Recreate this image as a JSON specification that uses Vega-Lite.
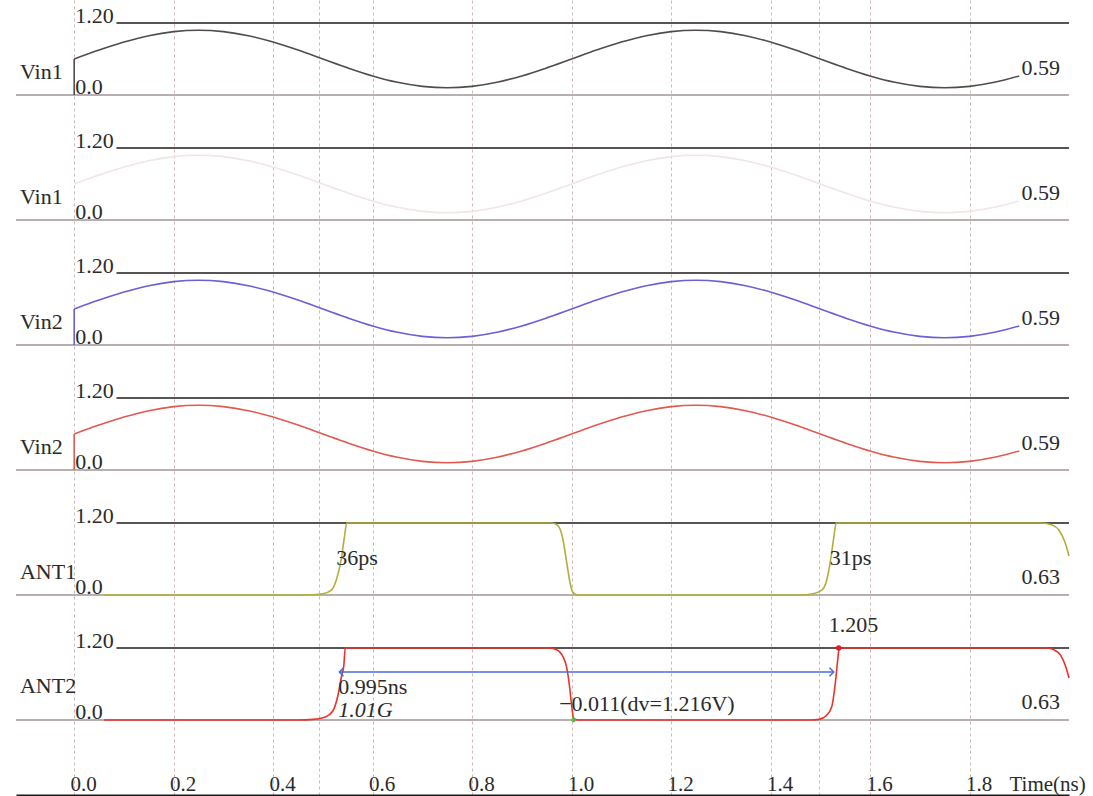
{
  "$schema": "https://vega.github.io/schema/vega-lite/v6.json",
  "padding": {"left": 15, "top": 0, "right": 0, "bottom": 0},
  "background": "white",
  "config": {
    "view": {"stroke": null},
    "text": {"font": "Liberation Serif", "fontSize": 22, "color": "#2a2a2a"},
    "axisY": {"disable": true}
  },
  "data": {"values": [
    {"kind":"name","panel":1,"name":"Vin1","end":"0.59"},
    {"kind":"name","panel":2,"name":"Vin1","end":"0.59"},
    {"kind":"name","panel":3,"name":"Vin2","end":"0.59"},
    {"kind":"name","panel":4,"name":"Vin2","end":"0.59"},
    {"kind":"name","panel":5,"name":"ANT1","end":"0.63"},
    {"kind":"name","panel":6,"name":"ANT2","end":"0.63"},
    {"kind":"start","panel":1,"t":0,"v":0,"v2":0.6},
    {"kind":"start","panel":3,"t":0,"v":0,"v2":0.6},
    {"kind":"start","panel":4,"t":0,"v":0,"v2":0.6},
    {"kind":"wave","panel":1,"t":0,"v":0.6},{"kind":"wave","panel":1,"t":0.05,"v":0.748},{"kind":"wave","panel":1,"t":0.1,"v":0.882},{"kind":"wave","panel":1,"t":0.15,"v":0.988},{"kind":"wave","panel":1,"t":0.2,"v":1.056},{"kind":"wave","panel":1,"t":0.25,"v":1.08},{"kind":"wave","panel":1,"t":0.3,"v":1.056},{"kind":"wave","panel":1,"t":0.35,"v":0.988},{"kind":"wave","panel":1,"t":0.4,"v":0.882},{"kind":"wave","panel":1,"t":0.45,"v":0.748},{"kind":"wave","panel":1,"t":0.5,"v":0.6},{"kind":"wave","panel":1,"t":0.55,"v":0.452},{"kind":"wave","panel":1,"t":0.6,"v":0.318},{"kind":"wave","panel":1,"t":0.65,"v":0.212},{"kind":"wave","panel":1,"t":0.7,"v":0.144},{"kind":"wave","panel":1,"t":0.75,"v":0.12},{"kind":"wave","panel":1,"t":0.8,"v":0.144},{"kind":"wave","panel":1,"t":0.85,"v":0.212},{"kind":"wave","panel":1,"t":0.9,"v":0.318},{"kind":"wave","panel":1,"t":0.95,"v":0.452},{"kind":"wave","panel":1,"t":1.0,"v":0.6},{"kind":"wave","panel":1,"t":1.05,"v":0.748},{"kind":"wave","panel":1,"t":1.1,"v":0.882},{"kind":"wave","panel":1,"t":1.15,"v":0.988},{"kind":"wave","panel":1,"t":1.2,"v":1.056},{"kind":"wave","panel":1,"t":1.25,"v":1.08},{"kind":"wave","panel":1,"t":1.3,"v":1.056},{"kind":"wave","panel":1,"t":1.35,"v":0.988},{"kind":"wave","panel":1,"t":1.4,"v":0.882},{"kind":"wave","panel":1,"t":1.45,"v":0.748},{"kind":"wave","panel":1,"t":1.5,"v":0.6},{"kind":"wave","panel":1,"t":1.55,"v":0.452},{"kind":"wave","panel":1,"t":1.6,"v":0.318},{"kind":"wave","panel":1,"t":1.65,"v":0.212},{"kind":"wave","panel":1,"t":1.7,"v":0.144},{"kind":"wave","panel":1,"t":1.75,"v":0.12},{"kind":"wave","panel":1,"t":1.8,"v":0.144},{"kind":"wave","panel":1,"t":1.85,"v":0.212},{"kind":"wave","panel":1,"t":1.9,"v":0.318},
    {"kind":"wave","panel":2,"t":0,"v":0.6},{"kind":"wave","panel":2,"t":0.05,"v":0.748},{"kind":"wave","panel":2,"t":0.1,"v":0.882},{"kind":"wave","panel":2,"t":0.15,"v":0.988},{"kind":"wave","panel":2,"t":0.2,"v":1.056},{"kind":"wave","panel":2,"t":0.25,"v":1.08},{"kind":"wave","panel":2,"t":0.3,"v":1.056},{"kind":"wave","panel":2,"t":0.35,"v":0.988},{"kind":"wave","panel":2,"t":0.4,"v":0.882},{"kind":"wave","panel":2,"t":0.45,"v":0.748},{"kind":"wave","panel":2,"t":0.5,"v":0.6},{"kind":"wave","panel":2,"t":0.55,"v":0.452},{"kind":"wave","panel":2,"t":0.6,"v":0.318},{"kind":"wave","panel":2,"t":0.65,"v":0.212},{"kind":"wave","panel":2,"t":0.7,"v":0.144},{"kind":"wave","panel":2,"t":0.75,"v":0.12},{"kind":"wave","panel":2,"t":0.8,"v":0.144},{"kind":"wave","panel":2,"t":0.85,"v":0.212},{"kind":"wave","panel":2,"t":0.9,"v":0.318},{"kind":"wave","panel":2,"t":0.95,"v":0.452},{"kind":"wave","panel":2,"t":1.0,"v":0.6},{"kind":"wave","panel":2,"t":1.05,"v":0.748},{"kind":"wave","panel":2,"t":1.1,"v":0.882},{"kind":"wave","panel":2,"t":1.15,"v":0.988},{"kind":"wave","panel":2,"t":1.2,"v":1.056},{"kind":"wave","panel":2,"t":1.25,"v":1.08},{"kind":"wave","panel":2,"t":1.3,"v":1.056},{"kind":"wave","panel":2,"t":1.35,"v":0.988},{"kind":"wave","panel":2,"t":1.4,"v":0.882},{"kind":"wave","panel":2,"t":1.45,"v":0.748},{"kind":"wave","panel":2,"t":1.5,"v":0.6},{"kind":"wave","panel":2,"t":1.55,"v":0.452},{"kind":"wave","panel":2,"t":1.6,"v":0.318},{"kind":"wave","panel":2,"t":1.65,"v":0.212},{"kind":"wave","panel":2,"t":1.7,"v":0.144},{"kind":"wave","panel":2,"t":1.75,"v":0.12},{"kind":"wave","panel":2,"t":1.8,"v":0.144},{"kind":"wave","panel":2,"t":1.85,"v":0.212},{"kind":"wave","panel":2,"t":1.9,"v":0.318},
    {"kind":"wave","panel":3,"t":0,"v":0.6},{"kind":"wave","panel":3,"t":0.05,"v":0.748},{"kind":"wave","panel":3,"t":0.1,"v":0.882},{"kind":"wave","panel":3,"t":0.15,"v":0.988},{"kind":"wave","panel":3,"t":0.2,"v":1.056},{"kind":"wave","panel":3,"t":0.25,"v":1.08},{"kind":"wave","panel":3,"t":0.3,"v":1.056},{"kind":"wave","panel":3,"t":0.35,"v":0.988},{"kind":"wave","panel":3,"t":0.4,"v":0.882},{"kind":"wave","panel":3,"t":0.45,"v":0.748},{"kind":"wave","panel":3,"t":0.5,"v":0.6},{"kind":"wave","panel":3,"t":0.55,"v":0.452},{"kind":"wave","panel":3,"t":0.6,"v":0.318},{"kind":"wave","panel":3,"t":0.65,"v":0.212},{"kind":"wave","panel":3,"t":0.7,"v":0.144},{"kind":"wave","panel":3,"t":0.75,"v":0.12},{"kind":"wave","panel":3,"t":0.8,"v":0.144},{"kind":"wave","panel":3,"t":0.85,"v":0.212},{"kind":"wave","panel":3,"t":0.9,"v":0.318},{"kind":"wave","panel":3,"t":0.95,"v":0.452},{"kind":"wave","panel":3,"t":1.0,"v":0.6},{"kind":"wave","panel":3,"t":1.05,"v":0.748},{"kind":"wave","panel":3,"t":1.1,"v":0.882},{"kind":"wave","panel":3,"t":1.15,"v":0.988},{"kind":"wave","panel":3,"t":1.2,"v":1.056},{"kind":"wave","panel":3,"t":1.25,"v":1.08},{"kind":"wave","panel":3,"t":1.3,"v":1.056},{"kind":"wave","panel":3,"t":1.35,"v":0.988},{"kind":"wave","panel":3,"t":1.4,"v":0.882},{"kind":"wave","panel":3,"t":1.45,"v":0.748},{"kind":"wave","panel":3,"t":1.5,"v":0.6},{"kind":"wave","panel":3,"t":1.55,"v":0.452},{"kind":"wave","panel":3,"t":1.6,"v":0.318},{"kind":"wave","panel":3,"t":1.65,"v":0.212},{"kind":"wave","panel":3,"t":1.7,"v":0.144},{"kind":"wave","panel":3,"t":1.75,"v":0.12},{"kind":"wave","panel":3,"t":1.8,"v":0.144},{"kind":"wave","panel":3,"t":1.85,"v":0.212},{"kind":"wave","panel":3,"t":1.9,"v":0.318},
    {"kind":"wave","panel":4,"t":0,"v":0.6},{"kind":"wave","panel":4,"t":0.05,"v":0.748},{"kind":"wave","panel":4,"t":0.1,"v":0.882},{"kind":"wave","panel":4,"t":0.15,"v":0.988},{"kind":"wave","panel":4,"t":0.2,"v":1.056},{"kind":"wave","panel":4,"t":0.25,"v":1.08},{"kind":"wave","panel":4,"t":0.3,"v":1.056},{"kind":"wave","panel":4,"t":0.35,"v":0.988},{"kind":"wave","panel":4,"t":0.4,"v":0.882},{"kind":"wave","panel":4,"t":0.45,"v":0.748},{"kind":"wave","panel":4,"t":0.5,"v":0.6},{"kind":"wave","panel":4,"t":0.55,"v":0.452},{"kind":"wave","panel":4,"t":0.6,"v":0.318},{"kind":"wave","panel":4,"t":0.65,"v":0.212},{"kind":"wave","panel":4,"t":0.7,"v":0.144},{"kind":"wave","panel":4,"t":0.75,"v":0.12},{"kind":"wave","panel":4,"t":0.8,"v":0.144},{"kind":"wave","panel":4,"t":0.85,"v":0.212},{"kind":"wave","panel":4,"t":0.9,"v":0.318},{"kind":"wave","panel":4,"t":0.95,"v":0.452},{"kind":"wave","panel":4,"t":1.0,"v":0.6},{"kind":"wave","panel":4,"t":1.05,"v":0.748},{"kind":"wave","panel":4,"t":1.1,"v":0.882},{"kind":"wave","panel":4,"t":1.15,"v":0.988},{"kind":"wave","panel":4,"t":1.2,"v":1.056},{"kind":"wave","panel":4,"t":1.25,"v":1.08},{"kind":"wave","panel":4,"t":1.3,"v":1.056},{"kind":"wave","panel":4,"t":1.35,"v":0.988},{"kind":"wave","panel":4,"t":1.4,"v":0.882},{"kind":"wave","panel":4,"t":1.45,"v":0.748},{"kind":"wave","panel":4,"t":1.5,"v":0.6},{"kind":"wave","panel":4,"t":1.55,"v":0.452},{"kind":"wave","panel":4,"t":1.6,"v":0.318},{"kind":"wave","panel":4,"t":1.65,"v":0.212},{"kind":"wave","panel":4,"t":1.7,"v":0.144},{"kind":"wave","panel":4,"t":1.75,"v":0.12},{"kind":"wave","panel":4,"t":1.8,"v":0.144},{"kind":"wave","panel":4,"t":1.85,"v":0.212},{"kind":"wave","panel":4,"t":1.9,"v":0.318},
    {"kind":"wave","panel":5,"t":0.06,"v":0},{"kind":"wave","panel":5,"t":0.45,"v":0},{"kind":"wave","panel":5,"t":0.48,"v":0.005},{"kind":"wave","panel":5,"t":0.5,"v":0.02},{"kind":"wave","panel":5,"t":0.517,"v":0.08},{"kind":"wave","panel":5,"t":0.527,"v":0.25},{"kind":"wave","panel":5,"t":0.537,"v":0.6},{"kind":"wave","panel":5,"t":0.543,"v":0.95},{"kind":"wave","panel":5,"t":0.548,"v":1.2},{"kind":"wave","panel":5,"t":0.96,"v":1.2},{"kind":"wave","panel":5,"t":0.972,"v":1.16},{"kind":"wave","panel":5,"t":0.982,"v":0.95},{"kind":"wave","panel":5,"t":0.99,"v":0.55},{"kind":"wave","panel":5,"t":0.997,"v":0.2},{"kind":"wave","panel":5,"t":1.003,"v":0.04},{"kind":"wave","panel":5,"t":1.012,"v":0},{"kind":"wave","panel":5,"t":1.46,"v":0},{"kind":"wave","panel":5,"t":1.485,"v":0.02},{"kind":"wave","panel":5,"t":1.503,"v":0.08},{"kind":"wave","panel":5,"t":1.513,"v":0.25},{"kind":"wave","panel":5,"t":1.521,"v":0.6},{"kind":"wave","panel":5,"t":1.527,"v":0.95},{"kind":"wave","panel":5,"t":1.532,"v":1.2},{"kind":"wave","panel":5,"t":1.945,"v":1.2},{"kind":"wave","panel":5,"t":1.965,"v":1.17},{"kind":"wave","panel":5,"t":1.98,"v":1.08},{"kind":"wave","panel":5,"t":1.992,"v":0.88},{"kind":"wave","panel":5,"t":2.0,"v":0.65},
    {"kind":"wave","panel":6,"t":0.06,"v":0},{"kind":"wave","panel":6,"t":0.45,"v":0},{"kind":"wave","panel":6,"t":0.48,"v":0.01},{"kind":"wave","panel":6,"t":0.505,"v":0.05},{"kind":"wave","panel":6,"t":0.52,"v":0.15},{"kind":"wave","panel":6,"t":0.53,"v":0.4},{"kind":"wave","panel":6,"t":0.538,"v":0.75},{"kind":"wave","panel":6,"t":0.542,"v":0.9},{"kind":"wave","panel":6,"t":0.545,"v":1.2},{"kind":"wave","panel":6,"t":0.955,"v":1.2},{"kind":"wave","panel":6,"t":0.97,"v":1.17},{"kind":"wave","panel":6,"t":0.983,"v":1.05},{"kind":"wave","panel":6,"t":0.99,"v":0.88},{"kind":"wave","panel":6,"t":0.996,"v":0.55},{"kind":"wave","panel":6,"t":1.0,"v":0.25},{"kind":"wave","panel":6,"t":1.004,"v":0.03},{"kind":"wave","panel":6,"t":1.012,"v":0},{"kind":"wave","panel":6,"t":1.48,"v":0},{"kind":"wave","panel":6,"t":1.497,"v":0.01},{"kind":"wave","panel":6,"t":1.512,"v":0.07},{"kind":"wave","panel":6,"t":1.523,"v":0.22},{"kind":"wave","panel":6,"t":1.53,"v":0.6},{"kind":"wave","panel":6,"t":1.535,"v":1.0},{"kind":"wave","panel":6,"t":1.538,"v":1.2},{"kind":"wave","panel":6,"t":1.955,"v":1.2},{"kind":"wave","panel":6,"t":1.97,"v":1.17},{"kind":"wave","panel":6,"t":1.983,"v":1.08},{"kind":"wave","panel":6,"t":1.993,"v":0.9},{"kind":"wave","panel":6,"t":2.0,"v":0.7},
    {"kind":"arrow","panel":6,"t":0.533,"t2":1.527,"v":0.8},
    {"kind":"max","panel":6,"t":1.537,"v":1.2},
    {"kind":"min","panel":6,"t":1.004,"v":0},
    {"kind":"note","panel":5,"t":0.527,"v":0.62,"label":"36ps"},
    {"kind":"note","panel":5,"t":1.519,"v":0.62,"label":"31ps"},
    {"kind":"note","panel":6,"t":1.517,"v":1.59,"label":"1.205"},
    {"kind":"note","panel":6,"t":0.531,"v":0.55,"label":"0.995ns"},
    {"kind":"note","panel":6,"t":0.975,"v":0.27,"label":"−0.011(dv=1.216V)"},
    {"kind":"freq","panel":6,"t":0.531,"v":0.17,"label":"1.01G"}
  ]},
  "facet": {"row": {"field": "panel", "type": "ordinal", "header": null}},
  "spacing": 0,
  "bounds": "flush",
  "spec": {
    "width": 1053,
    "height": 125,
    "layer": [
      {
        "transform": [{"filter": "datum.kind == 'name'"}],
        "mark": {"type": "rule", "color": "#a39494", "strokeWidth": 1.5},
        "encoding": {
          "x": {"datum": -0.117, "type": "quantitative"},
          "x2": {"datum": 2.0},
          "y": {"datum": 0, "type": "quantitative"}
        }
      },
      {
        "transform": [{"filter": "datum.kind == 'name'"}],
        "mark": {"type": "rule", "color": "#595454", "strokeWidth": 2},
        "encoding": {
          "x": {"datum": 0.085, "type": "quantitative"},
          "x2": {"datum": 2.0},
          "y": {"datum": 1.2, "type": "quantitative"}
        }
      },
      {
        "transform": [{"filter": "datum.kind == 'wave'"}],
        "mark": {"type": "line", "interpolate": "monotone", "strokeWidth": 1.6},
        "encoding": {
          "x": {"field": "t", "type": "quantitative",
            "scale": {"domain": [-0.117, 2.0], "nice": false, "zero": false},
            "axis": {
              "values": [0, 0.2, 0.4, 0.493, 0.6, 0.8, 1.0, 1.2, 1.4, 1.497, 1.6, 1.8],
              "labelExpr": "(datum.value == 0.493 || datum.value == 1.497) ? '' : format(datum.value, '.1f')",
              "offset": 45,
              "grid": true, "gridDash": [3, 3], "gridColor": "#cdb9b9", "gridWidth": 1,
              "ticks": true, "tickSize": -45, "tickDash": [3, 3], "tickColor": "#cdb9b9",
              "domainColor": "#1a1a1a", "domainWidth": 2,
              "labelFont": "Liberation Serif", "labelFontSize": 21, "labelColor": "#2a2a2a",
              "labelPadding": 40, "labelBaseline": "alphabetic", "labelOffset": 9,
              "labelFlush": false, "labelOverlap": false,
              "title": "Time(ns)", "titleFont": "Liberation Serif", "titleFontWeight": "normal",
              "titleFontSize": 21, "titleColor": "#2a2a2a", "titleX": 993, "titleY": -5,
              "titleAlign": "left", "titleBaseline": "alphabetic"
            }},
          "y": {"field": "v", "type": "quantitative",
            "scale": {"domain": [-0.5, 1.583], "nice": false, "zero": false}, "axis": null},
          "color": {"field": "panel", "type": "nominal",
            "scale": {"domain": [1, 2, 3, 4, 5, 6], "range": ["#514c4c", "#f1e5e5", "#6a5fd4", "#e05a50", "#b3ae3c", "#e8332b"]},
            "legend": null}
        }
      },
      {
        "transform": [{"filter": "datum.kind == 'start'"}],
        "mark": {"type": "rule", "strokeWidth": 1.6},
        "encoding": {
          "x": {"field": "t", "type": "quantitative"},
          "y": {"field": "v", "type": "quantitative"},
          "y2": {"field": "v2"},
          "color": {"field": "panel", "type": "nominal", "legend": null}
        }
      },
      {
        "transform": [{"filter": "datum.kind == 'arrow'"}],
        "mark": {"type": "rule", "color": "#4d6ae0", "strokeWidth": 1.5},
        "encoding": {
          "x": {"field": "t", "type": "quantitative"},
          "x2": {"field": "t2"},
          "y": {"field": "v", "type": "quantitative"}
        }
      },
      {
        "transform": [{"filter": "datum.kind == 'arrow'"}],
        "mark": {"type": "point", "shape": "M1,-1L0,0L1,1", "filled": false, "color": "#4d6ae0", "strokeWidth": 1.5, "size": 70, "opacity": 1},
        "encoding": {
          "x": {"field": "t", "type": "quantitative"},
          "y": {"field": "v", "type": "quantitative"}
        }
      },
      {
        "transform": [{"filter": "datum.kind == 'arrow'"}],
        "mark": {"type": "point", "shape": "M-1,-1L0,0L-1,1", "filled": false, "color": "#4d6ae0", "strokeWidth": 1.5, "size": 70, "opacity": 1},
        "encoding": {
          "x": {"field": "t2", "type": "quantitative"},
          "y": {"field": "v", "type": "quantitative"}
        }
      },
      {
        "transform": [{"filter": "datum.kind == 'max'"}],
        "mark": {"type": "point", "shape": "circle", "filled": true, "color": "#d8202a", "size": 30, "opacity": 1},
        "encoding": {
          "x": {"field": "t", "type": "quantitative"},
          "y": {"field": "v", "type": "quantitative"}
        }
      },
      {
        "transform": [{"filter": "datum.kind == 'min'"}],
        "mark": {"type": "point", "shape": "circle", "filled": true, "color": "#4cc040", "size": 20, "opacity": 1},
        "encoding": {
          "x": {"field": "t", "type": "quantitative"},
          "y": {"field": "v", "type": "quantitative"}
        }
      },
      {
        "transform": [{"filter": "datum.kind == 'name' && datum.panel != 6"}],
        "mark": {"type": "text", "align": "left", "baseline": "middle"},
        "encoding": {
          "x": {"datum": -0.109, "type": "quantitative"},
          "y": {"datum": 0.383, "type": "quantitative"},
          "text": {"field": "name"}
        }
      },
      {
        "transform": [{"filter": "datum.kind == 'name' && datum.panel == 6"}],
        "mark": {"type": "text", "align": "left", "baseline": "middle"},
        "encoding": {
          "x": {"datum": -0.109, "type": "quantitative"},
          "y": {"datum": 0.57, "type": "quantitative"},
          "text": {"field": "name"}
        }
      },
      {
        "transform": [{"filter": "datum.kind == 'name'"}],
        "mark": {"type": "text", "align": "left", "baseline": "alphabetic", "text": "1.20"},
        "encoding": {
          "x": {"datum": 0.002, "type": "quantitative"},
          "y": {"datum": 1.2, "type": "quantitative"}
        }
      },
      {
        "transform": [{"filter": "datum.kind == 'name'"}],
        "mark": {"type": "text", "align": "left", "baseline": "alphabetic", "text": "0.0", "dy": -1},
        "encoding": {
          "x": {"datum": 0.002, "type": "quantitative"},
          "y": {"datum": 0, "type": "quantitative"}
        }
      },
      {
        "transform": [{"filter": "datum.kind == 'name' && datum.panel <= 4"}],
        "mark": {"type": "text", "align": "right", "baseline": "middle"},
        "encoding": {
          "x": {"datum": 1.982, "type": "quantitative"},
          "y": {"datum": 0.45, "type": "quantitative"},
          "text": {"field": "end"}
        }
      },
      {
        "transform": [{"filter": "datum.kind == 'name' && datum.panel >= 5"}],
        "mark": {"type": "text", "align": "right", "baseline": "middle"},
        "encoding": {
          "x": {"datum": 1.982, "type": "quantitative"},
          "y": {"datum": 0.3, "type": "quantitative"},
          "text": {"field": "end"}
        }
      },
      {
        "transform": [{"filter": "datum.kind == 'note'"}],
        "mark": {"type": "text", "align": "left", "baseline": "middle"},
        "encoding": {
          "x": {"field": "t", "type": "quantitative"},
          "y": {"field": "v", "type": "quantitative"},
          "text": {"field": "label"}
        }
      },
      {
        "transform": [{"filter": "datum.kind == 'freq'"}],
        "mark": {"type": "text", "align": "left", "baseline": "middle", "fontStyle": "italic"},
        "encoding": {
          "x": {"field": "t", "type": "quantitative"},
          "y": {"field": "v", "type": "quantitative"},
          "text": {"field": "label"}
        }
      }
    ]
  }
}
